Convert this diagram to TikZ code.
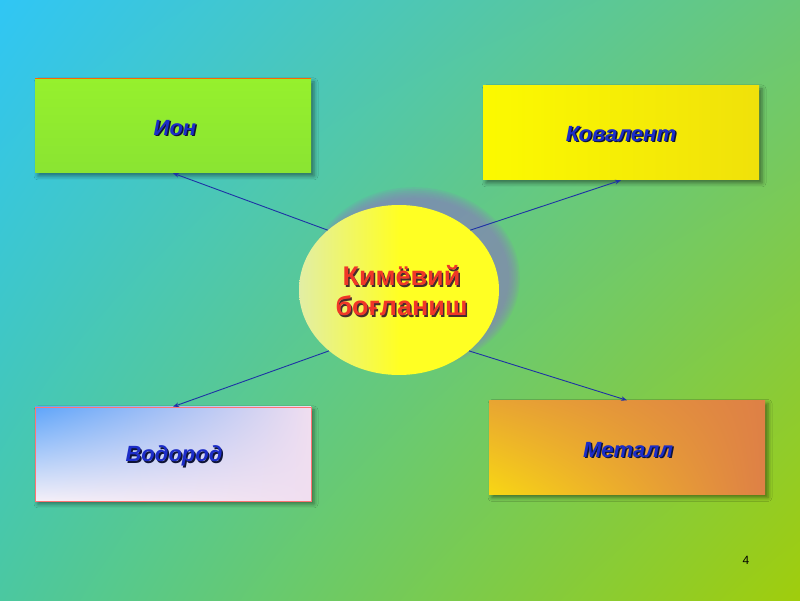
\documentclass[tikz,border=0pt]{standalone}
\usepackage{fontspec}
\setmainfont{Liberation Sans}
\usetikzlibrary{shapes.geometric,arrows.meta,shadows.blur,shadings}
\definecolor{bgUL}{RGB}{48,198,245}
\definecolor{bgUR}{RGB}{105,200,120}
\definecolor{bgLL}{RGB}{75,200,160}
\definecolor{bgLR}{RGB}{160,205,12}
\definecolor{ionG}{RGB}{150,240,45}
\definecolor{ionG2}{RGB}{138,228,50}
\definecolor{kovY}{RGB}{252,250,0}
\definecolor{kovY2}{RGB}{240,225,10}
\definecolor{vodB}{RGB}{95,165,250}
\definecolor{vodW}{RGB}{245,240,248}
\definecolor{vodP}{RGB}{240,222,240}
\definecolor{metY}{RGB}{248,215,20}
\definecolor{metO}{RGB}{222,128,70}
\definecolor{metM}{RGB}{232,165,50}
\definecolor{lblBlue}{RGB}{28,45,200}
\definecolor{lblShadow}{RGB}{15,20,55}
\definecolor{ctrRed}{RGB}{240,55,40}
\definecolor{ctrShadow}{RGB}{70,45,45}
\definecolor{arrBlue}{RGB}{30,50,165}
\definecolor{ellShadow}{RGB}{135,130,185}
\definecolor{ellLight}{RGB}{226,238,165}
\definecolor{ellYellow}{RGB}{255,255,35}
\tikzset{
  x=1pt,y=1pt,
  box/.style={minimum width=276pt,minimum height=94pt,inner sep=0pt,
    blur shadow={shadow xshift=3pt,shadow yshift=-3pt,shadow opacity=45,shadow blur radius=4pt}},
  lbl/.style={font=\fontsize{22}{26}\selectfont\bfseries\itshape,text=lblBlue,inner sep=0pt},
  lblsh/.style={font=\fontsize{22}{26}\selectfont\bfseries\itshape,text=lblShadow,inner sep=0pt},
  ctr/.style={font=\fontsize{27}{30}\selectfont\bfseries,align=center,inner sep=0pt},
  conn/.style={draw=arrBlue,line width=0.9pt,-{Stealth[length=6pt,width=4.5pt]}}
}
\begin{document}
\begin{tikzpicture}
% background
\shade[upper left=bgUL,upper right=bgUR,lower left=bgLL,lower right=bgLR] (0,0) rectangle (800,600);
\useasboundingbox (0,0) rectangle (800,600);

% boxes
\node[box,top color=ionG,bottom color=ionG2] (ion) at (173,474) {};
\draw[orange!80!red,line width=0.6pt] (ion.north west) -- (ion.north east);
\node[box,left color=kovY,right color=kovY2] (kov) at (621,467) {};
\node[box,upper left=vodB,upper right=vodP,lower left=vodW,lower right=vodP,draw=red!55,line width=0.6pt] (vod) at (173,146) {};
\node[box,upper left=metM,upper right=metO,lower left=metY,lower right=metO] (met) at (627,152.5) {};

% labels
\node[lblsh] (ionS) at (176.5,470.5) {Ион};
\node[lbl] (ionT) at (175,472) {Ион};
\node[lblsh] (kovS) at (622.5,464.5) {Ковалент};
\node[lbl] (kovT) at (621,466) {Ковалент};
\node[lblsh] (vodS) at (175.5,142.5) {Водород};
\node[lbl] (vodT) at (174,144) {Водород};
\node[lblsh] (metS) at (629.5,148.5) {Металл};
\node[lbl] (metT) at (628,150) {Металл};

% soft shadow behind the central ellipse
\foreach \i in {0,...,6}{
  \fill[ellShadow,opacity=0.16] (414,322) ellipse ({95+1.8*\i} and {80+1.8*\i});
}
% central ellipse
\node[ellipse,minimum width=200pt,minimum height=170pt,inner sep=0pt,
  left color=ellLight,right color=ellYellow,middle color=ellYellow] (ell) at (399,310) {};
\node[ctr,text=ctrShadow] (ctrS) at (403,307.5) {Кимёвий\\боғланиш};
\node[ctr,text=ctrRed] (ctrT) at (401.5,309) {Кимёвий\\боғланиш};

% connectors
\draw[conn] (ell.140) -- (ion.south);
\draw[conn] (ell.40) -- (kov.south);
\draw[conn] (ell.221) -- (vod.north);
\draw[conn] (ell.319) -- (met.north);

% page number
\node[font=\fontsize{12}{14}\selectfont,inner sep=0pt] (pg) at (746,40) {4};
\end{tikzpicture}
\end{document}
